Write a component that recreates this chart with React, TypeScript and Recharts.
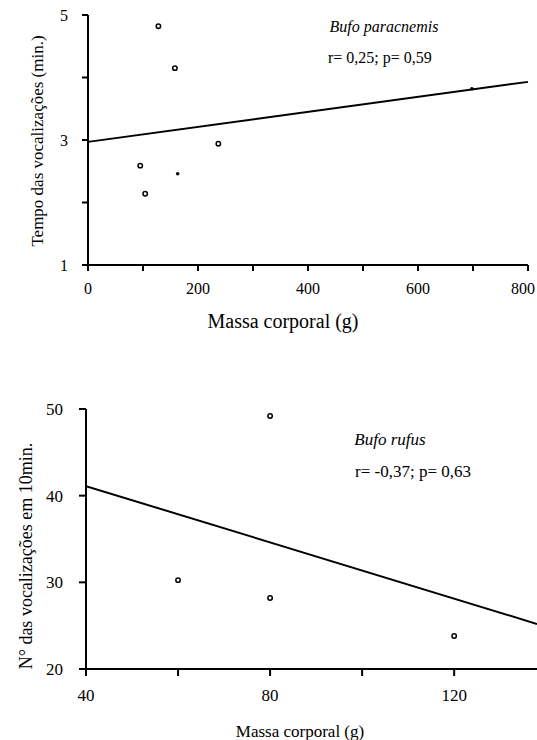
import { Label, Scatter, ScatterChart, XAxis, YAxis } from "recharts";

// Bufo paracnemis
const topMass = [128, 158, 237, 95, 104];
const topTime = [4.82, 4.15, 2.94, 2.59, 2.14];
const topDotMass = [163, 698];
const topDotTime = [2.46, 3.82];
const topFitMass = [0, 800];
const topFitTime = [2.97, 3.93];
const topXTicks = [0, 100, 200, 300, 400, 500, 600, 700, 800];
const topXLabels = ["0", "", "200", "", "400", "", "600", "", "800"];
const topYTicks = [1, 2, 3, 4, 5];
const topYLabels = ["1", "", "3", "", "5"];

// Bufo rufus
const botMass = [80, 60, 80, 120];
const botCalls = [49.2, 30.25, 28.2, 23.8];
const botFitMass = [40, 138];
const botFitCalls = [41.1, 25.2];
const botXTicks = [40, 60, 80, 100, 120];
const botXLabels = ["40", "", "80", "", "120"];
const botYTicks = [20, 30, 40, 50];
const botYLabels = ["20", "30", "40", "50"];

const FONT = "'Liberation Serif', 'Times New Roman', Tinos, 'DejaVu Serif', serif";

const zip = (xs: number[], ys: number[]) => xs.map((x, i) => ({ x, y: ys[i] }));
const pick = (ticks: number[], labels: string[]) => (v: number) => labels[ticks.indexOf(v)] ?? "";

const openDot = (p: any) => (
  <circle cx={p.cx} cy={p.cy} r={2.2} fill="#fff" stroke="#000" strokeWidth={1.5} />
);
const fullDot = (p: any) => <circle cx={p.cx} cy={p.cy} r={1.8} fill="#000" />;
const noDot = () => <g />;

const txt = { style: { fontFamily: FONT }, fill: "#000" };

// x tick label; the last one is pulled in a little so it stays on the page
const xTick = (ticks: number[], labels: string[], size: number, last: number) => (p: any) => {
  const v = p.payload.value;
  const shift = v === ticks[ticks.length - 1] ? last : 0;
  return (
    <text x={p.x + shift} y={p.y} dy="0.71em" textAnchor="middle" fontSize={size} {...txt}>
      {labels[ticks.indexOf(v)] ?? ""}
    </text>
  );
};

const yTick = (ticks: number[], labels: string[], size: number) => (p: any) => (
  <text x={p.x} y={p.y} dy="0.355em" textAnchor="end" fontSize={size} {...txt}>
    {labels[ticks.indexOf(p.payload.value)] ?? ""}
  </text>
);

function App() {
  return (
    <div style={{ position: "absolute", left: 0, top: 0, width: 537, height: 740, background: "#fff", fontFamily: FONT }}>
      <div style={{ position: "absolute", left: 0, top: 0 }}>
        <ScatterChart width={537} height={340} margin={{ top: 15, right: 9, left: 0, bottom: 0 }}>
          <XAxis
            type="number"
            dataKey="x"
            domain={[0, 800]}
            ticks={topXTicks}
            interval={0}
            height={75}
            tickSize={6}
            tickMargin={12}
            stroke="#000"
            strokeWidth={2}
            tick={xTick(topXTicks, topXLabels, 16, -5)}
          >
            <Label
              content={() => (
                <g>
                  <text x={283} y={328} textAnchor="middle" fontSize={20} {...txt}>
                    Massa corporal (g)
                  </text>
                  <text x={384} y={32} textAnchor="middle" fontSize={16} fontStyle="italic" {...txt}>
                    Bufo paracnemis
                  </text>
                  <text x={328} y={63} fontSize={16} {...txt}>
                    r= 0,25; p= 0,59
                  </text>
                </g>
              )}
            />
          </XAxis>
          <YAxis
            type="number"
            dataKey="y"
            domain={[1, 5]}
            ticks={topYTicks}
            interval={0}
            width={88}
            tickSize={6}
            tickMargin={14}
            stroke="#000"
            strokeWidth={2}
            tick={yTick(topYTicks, topYLabels, 16)}
          >
            <Label
              content={() => (
                <text x={43} y={141} transform="rotate(-90 43 141)" textAnchor="middle" fontSize={17} {...txt}>
                  Tempo das vocalizações (min.)
                </text>
              )}
            />
          </YAxis>
          <Scatter
            data={zip(topFitMass, topFitTime)}
            line={{ stroke: "#000", strokeWidth: 2 }}
            shape={noDot}
            isAnimationActive={false}
          />
          <Scatter data={zip(topMass, topTime)} shape={openDot} isAnimationActive={false} />
          <Scatter data={zip(topDotMass, topDotTime)} shape={fullDot} isAnimationActive={false} />
        </ScatterChart>
      </div>
      <div style={{ position: "absolute", left: 0, top: 380 }}>
        <ScatterChart width={537} height={360} margin={{ top: 29, right: 0, left: 0, bottom: 0 }}>
          <XAxis
            type="number"
            dataKey="x"
            domain={[40, 138]}
            allowDataOverflow
            ticks={botXTicks}
            interval={0}
            height={71}
            tickSize={7}
            tickMargin={13}
            stroke="#000"
            strokeWidth={2}
            tick={xTick(botXTicks, botXLabels, 17, 0)}
          >
            <Label
              content={() => (
                <g>
                  <text x={300} y={357} textAnchor="middle" fontSize={17} {...txt}>
                    Massa corporal (g)
                  </text>
                  <text x={390} y={65} textAnchor="middle" fontSize={17} fontStyle="italic" {...txt}>
                    Bufo rufus
                  </text>
                  <text x={355} y={97} fontSize={17} {...txt}>
                    r= -0,37; p= 0,63
                  </text>
                </g>
              )}
            />
          </XAxis>
          <YAxis
            type="number"
            dataKey="y"
            domain={[20, 50]}
            ticks={botYTicks}
            interval={0}
            width={86}
            tickSize={7}
            tickMargin={16}
            stroke="#000"
            strokeWidth={2}
            tick={yTick(botYTicks, botYLabels, 17)}
          >
            <Label
              content={() => (
                <text x={32} y={176} transform="rotate(-90 32 176)" textAnchor="middle" fontSize={18} {...txt}>
                  N° das vocalizações em 10min.
                </text>
              )}
            />
          </YAxis>
          <Scatter
            data={zip(botFitMass, botFitCalls)}
            line={{ stroke: "#000", strokeWidth: 2 }}
            shape={noDot}
            isAnimationActive={false}
          />
          <Scatter data={zip(botMass, botCalls)} shape={openDot} isAnimationActive={false} />
        </ScatterChart>
      </div>
    </div>
  );
}

export default App;
